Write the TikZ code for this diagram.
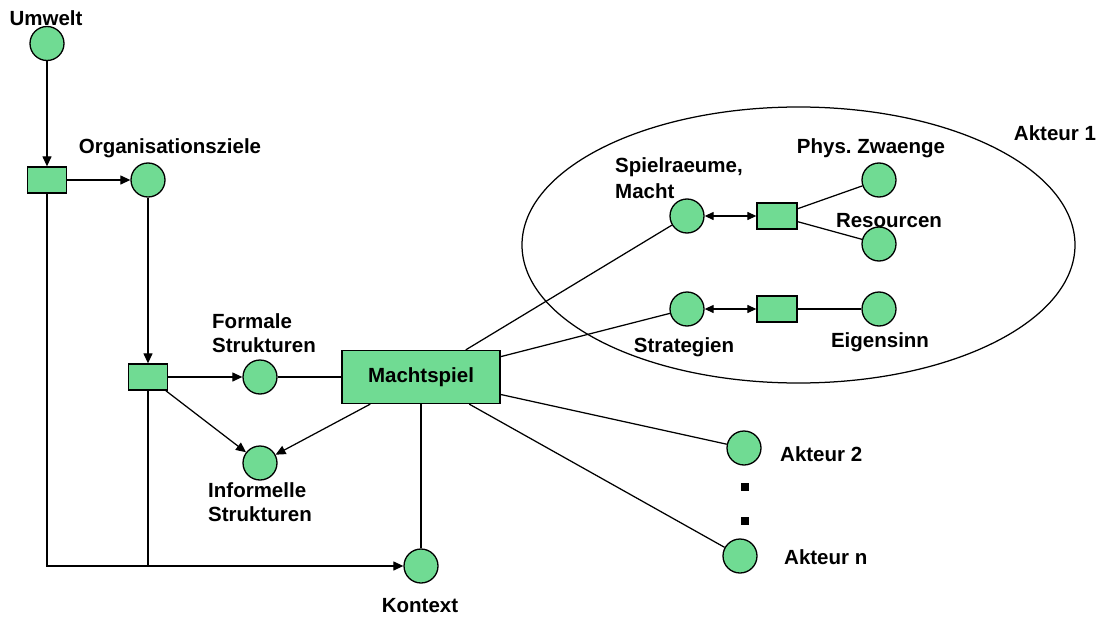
\documentclass[tikz,border=0pt]{standalone}
\usepackage{fontspec}
\setmainfont{Liberation Sans}
\usetikzlibrary{arrows.meta}
\definecolor{pgreen}{RGB}{112,219,147}
\frenchspacing
\begin{document}
\begin{tikzpicture}[x=1pt,y=-1pt,
  place/.style={circle,draw,line width=1.3pt,fill=pgreen,minimum size=34pt,inner sep=0pt},
  trans/.style={rectangle,draw,line width=1.3pt,fill=pgreen,minimum width=40pt,minimum height=26pt,inner sep=0pt},
  lbl/.style={inner sep=0pt,font=\fontsize{20.5}{24}\selectfont\bfseries},
  conn/.style={line width=1.25pt},
  arr/.style={conn,-{Triangle[length=10pt,width=9pt]}},
  darr/.style={conn,{Triangle[length=9pt,width=8pt]}-{Triangle[length=9pt,width=8pt]}}]
\useasboundingbox (0,0) rectangle (1098,618);

% left part
\node[place] (umw) at (47,43.5) {};
\node[lbl,anchor=base] (lumw) at (46,26) {Umwelt};
\node[trans,minimum width=39pt] (r1) at (47,180) {};
\node[place] (org) at (148,180) {};
\node[lbl,anchor=base] (lorg) at (170,153) {Organisationsziele};
\node[trans,minimum width=39pt] (r2) at (148,377) {};
\node[place] (form) at (260,377) {};
\node[lbl,anchor=base west] (lform1) at (212,328) {Formale};
\node[lbl,anchor=base west] (lform2) at (212,352) {Strukturen};
\node[place] (inf) at (260,463) {};
\node[lbl,anchor=base west] (linf1) at (208,497) {Informelle};
\node[lbl,anchor=base west] (linf2) at (208,521) {Strukturen};
\node[trans,minimum width=158pt,minimum height=53pt,lbl] (M) at (421,377) {Machtspiel};
\node[place] (kon) at (421,566) {};
\node[lbl,anchor=base] (lkon) at (420,612) {Kontext};

% Akteur 1
\draw[line width=1.25pt] (798.5,245) ellipse [x radius=276.5pt, y radius=138pt];
\node[lbl,anchor=base] (lak1) at (1055,140) {Akteur 1};
\node[place] (sp) at (687,216) {};
\node[lbl,anchor=base west] (lsp1) at (615,172) {Spielraeume,};
\node[lbl,anchor=base west] (lsp2) at (615,198) {Macht};
\node[trans] (r3) at (777,216) {};
\node[place] (phys) at (879,180) {};
\node[lbl,anchor=base] (lphys) at (871,153) {Phys. Zwaenge};
\node[place] (res) at (879,244) {};
\node[lbl,anchor=base] (lres) at (889,227) {Resourcen};
\node[place] (str) at (687,309) {};
\node[lbl,anchor=base] (lstr) at (684,352) {Strategien};
\node[trans] (r4) at (777,309) {};
\node[place] (eig) at (879,309) {};
\node[lbl,anchor=base] (leig) at (880,347) {Eigensinn};

% other actors
\node[place] (a2) at (744,448) {};
\node[lbl,anchor=base west] (la2) at (780,461) {Akteur 2};
\node[place] (an) at (740,556) {};
\node[lbl,anchor=base west] (lan) at (784,564) {Akteur n};
\fill (741,483) rectangle (749,491);
\fill (741,517) rectangle (749,525);

% connectors
\draw[arr] (umw) -- (r1);
\draw[arr] (r1) -- (org);
\draw[arr] (org) -- (r2);
\draw[arr] (r2) -- (form);
\draw[conn] (form) -- (M);
\draw[arr] (r2) -- (inf);
\draw[arr] (M) -- (inf);
\draw[conn] (M) -- (kon);
\draw[arr] (r1.south) |- (kon);
\draw[conn] (r2.south) -- (r2.south |- kon);
\draw[conn] (M) -- (sp);
\draw[conn] (M) -- (str);
\draw[conn] (M) -- (a2);
\draw[conn] (M) -- (an);
\draw[darr] (sp) -- (r3);
\draw[darr] (str) -- (r4);
\draw[conn] (r3) -- (phys);
\draw[conn] (r3) -- (res);
\draw[conn] (r4) -- (eig);
\end{tikzpicture}
\end{document}
